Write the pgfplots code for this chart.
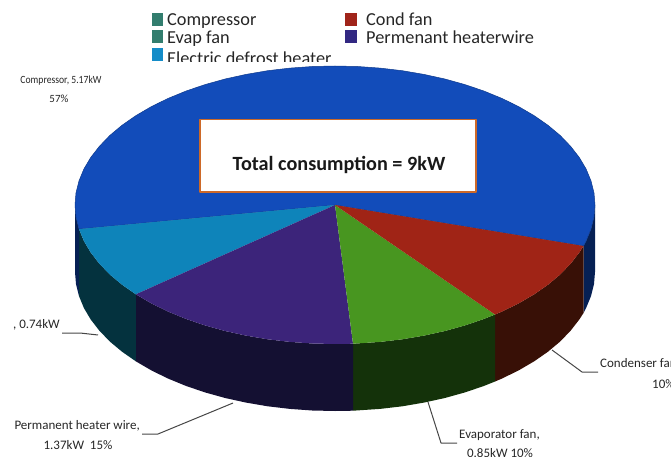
\documentclass[border=0pt]{standalone}
\usepackage{pgfplots}
\usepackage{fontspec}
\setmainfont{Carlito}
\pgfplotsset{compat=1.18}
\definecolor{cblue}{RGB}{18,76,186}
\definecolor{cblueedge}{RGB}{14,58,140}
\definecolor{cbluesd}{RGB}{6,32,84}
\definecolor{ccyan}{RGB}{14,132,186}
\definecolor{ccyansd}{RGB}{4,50,62}
\definecolor{cpurp}{RGB}{60,36,122}
\definecolor{cpurpsd}{RGB}{20,16,50}
\definecolor{cgreen}{RGB}{72,150,32}
\definecolor{cgreensd}{RGB}{20,50,10}
\definecolor{cred}{RGB}{160,36,22}
\definecolor{credsd}{RGB}{56,16,6}
\definecolor{lteal}{RGB}{50,125,110}
\definecolor{lred}{RGB}{160,36,26}
\definecolor{lpurp}{RGB}{50,40,130}
\definecolor{lcyan}{RGB}{20,140,200}
\definecolor{boxor}{RGB}{205,105,40}
\definecolor{lead}{RGB}{70,70,70}
\tikzset{lgd/.style={anchor=base west,inner sep=0pt,font=\fontsize{18.3}{19}\selectfont,text=black!85},
  lbl/.style={font=\fontsize{13}{14}\selectfont,text=black!85}}
\begin{document}
\begin{tikzpicture}
\useasboundingbox (0,0) rectangle (671pt,457pt);
\begin{axis}[at={(0,0)},anchor=south west,scale only axis,width=671pt,height=457pt,
  xmin=0,xmax=671,ymin=0,ymax=457,y dir=reverse,hide axis,clip=true,clip mode=global,
  every axis plot/.append style={line join=round}]
% blue side
\addplot[draw=none,fill=cbluesd] coordinates {(583.5,246)(586.1,241)(591,229.1)(594,217.1)(595,205)(595,272)(594,284.1)(591,296.1)(586.1,308)(583.5,313)} -- cycle;
\addplot[draw=none,fill=cbluesd] coordinates {(75,205)(76,217.1)(79,229.1)(79,296.1)(76,284.1)(75,272)} -- cycle;
% red side
\addplot[draw=none,fill=credsd] coordinates {(583.5,246)(579.3,252.5)(570.6,263.7)(560.2,274.5)(548,284.7)(534.2,294.3)(518.8,303.3)(502.1,311.5)(495,314.5)(495,381.5)(502.1,378.5)(518.8,370.3)(534.2,361.3)(548,351.7)(560.2,341.5)(570.6,330.7)(579.3,319.5)(583.5,313)} -- cycle;
% green side
\addplot[draw=none,fill=cgreensd] coordinates {(495,314.5)(484.1,318.9)(465,325.4)(444.9,331)(423.9,335.6)(402.3,339.3)(380.1,341.9)(353,343.7)(353,410.7)(380.1,408.9)(402.3,406.3)(423.9,402.6)(444.9,398)(465,392.4)(484.1,385.9)(495,381.5)} -- cycle;
% purple side
\addplot[draw=none,fill=cpurpsd] coordinates {(353,343.7)(335,344)(312.3,343.5)(289.9,341.9)(267.7,339.3)(246.1,335.6)(225.1,331)(205,325.4)(185.9,318.9)(167.9,311.5)(151.2,303.3)(135.8,294.3)(135.8,361.3)(151.2,370.3)(167.9,378.5)(185.9,385.9)(205,392.4)(225.1,398)(246.1,402.6)(267.7,406.3)(289.9,408.9)(312.3,410.5)(335,411)(353,410.7)} -- cycle;
% cyan side
\addplot[draw=none,fill=ccyansd] coordinates {(135.8,294.3)(122,284.7)(109.8,274.5)(99.4,263.7)(90.7,252.5)(83.9,241)(79,229.1)(79,296.1)(83.9,308)(90.7,319.5)(99.4,330.7)(109.8,341.5)(122,351.7)(135.8,361.3)} -- cycle;
% blue top
\addplot[draw=cblueedge,line width=0.5pt,fill=cblue] coordinates {(335,205)(583.5,246)(586.1,241)(591,229.1)(594,217.1)(595,205)(594,192.9)(591,180.9)(586.1,169)(579.3,157.5)(570.6,146.3)(560.2,135.5)(548,125.3)(534.2,115.7)(518.8,106.7)(502.1,98.5)(484.1,91.1)(465,84.6)(444.9,79)(423.9,74.4)(402.3,70.7)(380.1,68.1)(357.7,66.5)(335,66)(312.3,66.5)(289.9,68.1)(267.7,70.7)(246.1,74.4)(225.1,79)(205,84.6)(185.9,91.1)(167.9,98.5)(151.2,106.7)(135.8,115.7)(122,125.3)(109.8,135.5)(99.4,146.3)(90.7,157.5)(83.9,169)(79,180.9)(76,192.9)(75,205)(76,217.1)(79,229.1)} -- cycle;
% cyan top
\addplot[draw=none,fill=ccyan] coordinates {(335,205)(79,229.1)(83.9,241)(90.7,252.5)(99.4,263.7)(109.8,274.5)(122,284.7)(135.8,294.3)} -- cycle;
% purple top
\addplot[draw=none,fill=cpurp] coordinates {(335,205)(135.8,294.3)(151.2,303.3)(167.9,311.5)(185.9,318.9)(205,325.4)(225.1,331)(246.1,335.6)(267.7,339.3)(289.9,341.9)(312.3,343.5)(335,344)(353,343.7)} -- cycle;
% green top
\addplot[draw=none,fill=cgreen] coordinates {(335,205)(353,343.7)(380.1,341.9)(402.3,339.3)(423.9,335.6)(444.9,331)(465,325.4)(484.1,318.9)(495,314.5)} -- cycle;
% red top
\addplot[draw=none,fill=cred] coordinates {(335,205)(495,314.5)(502.1,311.5)(518.8,303.3)(534.2,294.3)(548,284.7)(560.2,274.5)(570.6,263.7)(579.3,252.5)(583.5,246)} -- cycle;
% text box
\addplot[draw=boxor,line width=1.4pt,fill=white] coordinates {(200,119.5)(476,119.5)(476,192)(200,192)} -- cycle;
% leader lines
\addplot[draw=lead,line width=1pt] coordinates {(62,333)(80,333)(98,335)};
\addplot[draw=lead,line width=1pt] coordinates {(142,434)(158,434)(233,403)};
\addplot[draw=lead,line width=1pt] coordinates {(457,443)(441,443)(428,402)};
\addplot[draw=lead,line width=1pt] coordinates {(598,372)(582,372)(552,350)};
% legend keys
\addplot[draw=none,fill=lteal] coordinates {(152,13)(163,13)(163,26)(152,26)} -- cycle;
\addplot[draw=none,fill=lteal] coordinates {(152,30)(163,30)(163,43)(152,43)} -- cycle;
\addplot[draw=none,fill=lcyan] coordinates {(152,48)(163,48)(163,61)(152,61)} -- cycle;
\addplot[draw=none,fill=lred] coordinates {(345,13)(357,13)(357,26)(345,26)} -- cycle;
\addplot[draw=none,fill=lpurp] coordinates {(345,30)(357,30)(357,43)(345,43)} -- cycle;
% legend text; the third row is cut along its lower edge, as in the reference
\begin{scope}
\clip (axis cs:160,40) rectangle (axis cs:345,62);
\node[lgd] at (axis cs:167,65) {Electric defrost heater};
\end{scope}
\node[lgd] at (axis cs:167,26) {Compressor};
\node[lgd] at (axis cs:167,44) {Evap fan};
\node[lgd] at (axis cs:366,26) {Cond fan};
\node[lgd] at (axis cs:366,44) {Permenant heaterwire};
% box text
\node[font=\fontsize{20.2}{22}\selectfont\bfseries,text=black!90] at (axis cs:339,165) {Total consumption = 9kW};
% data labels
\node[font=\fontsize{11}{12}\selectfont,text=black!85] at (axis cs:61,81) {\scalebox{0.88}[1]{Compressor, 5.17kW}};
\node[font=\fontsize{11}{12}\selectfont,text=black!85] at (axis cs:59,99) {57\%};
\node[lbl,anchor=east,inner sep=0pt] at (axis cs:60,325) {, 0.74kW};
\node[lbl,anchor=east,inner sep=0pt] at (axis cs:140,426) {Permanent heater wire,};
\node[lbl] at (axis cs:78,445) {1.37kW\ \ 15\%};
\node[lbl,anchor=west,inner sep=0pt] at (axis cs:459,435) {Evaporator fan,};
\node[lbl] at (axis cs:500,453) {0.85kW 10\%};
\node[lbl,anchor=west,inner sep=0pt] at (axis cs:600,364) {Condenser fan,};
\node[lbl,anchor=west,inner sep=0pt] at (axis cs:652,384) {10\%};
\end{axis}
\end{tikzpicture}
\end{document}
